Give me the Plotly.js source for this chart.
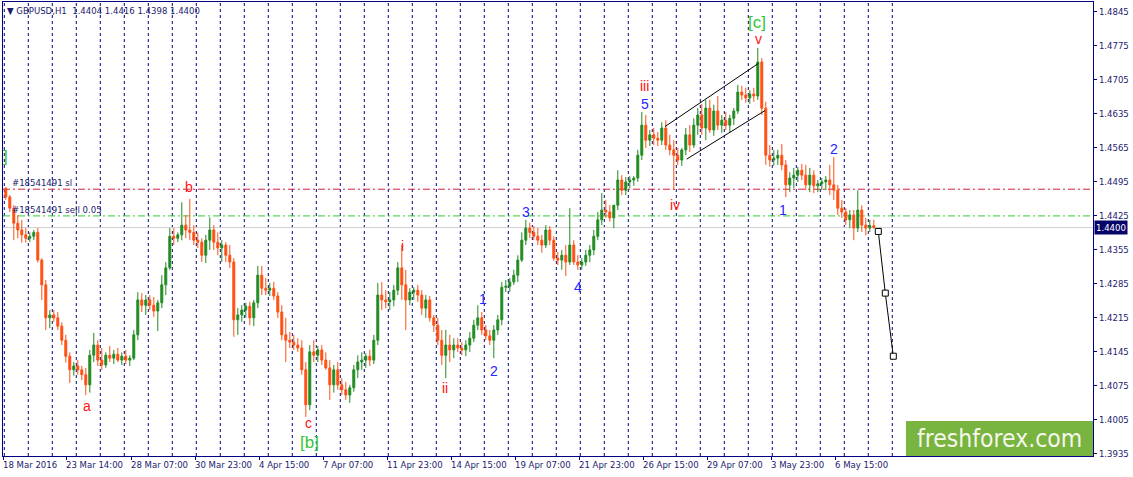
<!DOCTYPE html>
<html>
<head>
<meta charset="utf-8">
<script src="https://cdn.plot.ly/plotly-3.0.1.min.js"></script>
<style>
html, body { margin: 0; padding: 0; background: #fff; }
#chart { width: 1133px; height: 477px; }
</style>
</head>
<body>
<div id="chart"></div>
<script>
// GBPUSD H1, shown as 4-hour candles, bar 0 = 21 Mar 2016 00:00
var opens = [
 1.4481,1.4463,1.4440,1.4409,1.4395,1.4385, 1.4378,1.4382,1.4390,1.4333,1.4282,1.4214,
 1.4220,1.4214,1.4197,1.4168,1.4135,1.4107, 1.4115,1.4107,1.4097,1.4076,1.4137,1.4158,
 1.4127,1.4117,1.4137,1.4131,1.4139,1.4127, 1.4135,1.4127,1.4131,1.4179,1.4251,1.4240,
 1.4251,1.4240,1.4228,1.4245,1.4282,1.4317, 1.4382,1.4378,1.4385,1.4405,1.4395,1.4390,
 1.4374,1.4370,1.4343,1.4374,1.4395,1.4370, 1.4358,1.4364,1.4343,1.4329,1.4210,1.4220,
 1.4230,1.4238,1.4214,1.4245,1.4302,1.4275, 1.4271,1.4275,1.4259,1.4226,1.4179,1.4168,
 1.4164,1.4158,1.4152,1.4107,1.4035,1.4144, 1.4137,1.4148,1.4127,1.4111,1.4076,1.4107,
 1.4076,1.4066,1.4055,1.4070,1.4107,1.4123, 1.4127,1.4135,1.4127,1.4168,1.4261,1.4251,
 1.4247,1.4251,1.4271,1.4317,1.4282,1.4251, 1.4267,1.4271,1.4261,1.4234,1.4251,1.4214,
 1.4199,1.4168,1.4137,1.4158,1.4148,1.4158, 1.4152,1.4148,1.4158,1.4172,1.4199,1.4214,
 1.4189,1.4177,1.4168,1.4189,1.4210,1.4277, 1.4279,1.4288,1.4302,1.4333,1.4374,1.4399,
 1.4390,1.4382,1.4374,1.4364,1.4395,1.4374, 1.4337,1.4333,1.4343,1.4329,1.4364,1.4329,
 1.4323,1.4329,1.4343,1.4354,1.4382,1.4416, 1.4436,1.4432,1.4420,1.4446,1.4498,1.4477,
 1.4494,1.4498,1.4502,1.4549,1.4611,1.4580, 1.4591,1.4584,1.4580,1.4605,1.4570,1.4560,
 1.4549,1.4539,1.4560,1.4591,1.4570,1.4611, 1.4632,1.4605,1.4646,1.4601,1.4640,1.4611,
 1.4621,1.4611,1.4625,1.4640,1.4679,1.4673, 1.4667,1.4675,1.4671,1.4741,1.4646,1.4549,
 1.4539,1.4543,1.4549,1.4529,1.4488,1.4502, 1.4508,1.4518,1.4508,1.4488,1.4508,1.4486,
 1.4490,1.4494,1.4498,1.4488,1.4477,1.4440, 1.4432,1.4416,1.4426,1.4399,1.4436,1.4405,
 1.4399,1.4404
];
var highs = [
 1.4483,1.4467,1.4446,1.4426,1.4416,1.4399, 1.4390,1.4395,1.4399,1.4337,1.4292,1.4230,
 1.4230,1.4226,1.4205,1.4179,1.4143,1.4123, 1.4127,1.4115,1.4111,1.4148,1.4183,1.4168,
 1.4152,1.4143,1.4156,1.4148,1.4152,1.4143, 1.4148,1.4137,1.4189,1.4267,1.4265,1.4261,
 1.4261,1.4257,1.4251,1.4302,1.4329,1.4399, 1.4399,1.4390,1.4452,1.4426,1.4459,1.4405,
 1.4390,1.4378,1.4385,1.4421,1.4405,1.4390, 1.4374,1.4370,1.4364,1.4337,1.4234,1.4240,
 1.4245,1.4247,1.4251,1.4321,1.4321,1.4296, 1.4286,1.4288,1.4267,1.4240,1.4214,1.4185,
 1.4179,1.4172,1.4168,1.4123,1.4158,1.4168, 1.4156,1.4158,1.4143,1.4127,1.4117,1.4123,
 1.4090,1.4082,1.4076,1.4117,1.4137,1.4143, 1.4141,1.4148,1.4179,1.4286,1.4288,1.4271,
 1.4267,1.4282,1.4329,1.4364,1.4313,1.4275, 1.4277,1.4282,1.4271,1.4261,1.4259,1.4220,
 1.4214,1.4189,1.4189,1.4179,1.4172,1.4172, 1.4164,1.4168,1.4185,1.4210,1.4240,1.4226,
 1.4199,1.4189,1.4199,1.4220,1.4288,1.4292, 1.4296,1.4313,1.4343,1.4390,1.4416,1.4410,
 1.4403,1.4399,1.4385,1.4405,1.4403,1.4382, 1.4350,1.4354,1.4364,1.4440,1.4374,1.4343,
 1.4337,1.4354,1.4364,1.4395,1.4432,1.4471, 1.4457,1.4446,1.4436,1.4518,1.4508,1.4504,
 1.4506,1.4506,1.4560,1.4638,1.4632,1.4601, 1.4605,1.4597,1.4617,1.4621,1.4591,1.4580,
 1.4564,1.4564,1.4605,1.4611,1.4625,1.4646, 1.4655,1.4663,1.4663,1.4653,1.4671,1.4632,
 1.4638,1.4632,1.4646,1.4694,1.4692,1.4688, 1.4683,1.4688,1.4770,1.4749,1.4659,1.4570,
 1.4560,1.4560,1.4572,1.4539,1.4514,1.4523, 1.4525,1.4531,1.4529,1.4523,1.4518,1.4498,
 1.4502,1.4506,1.4529,1.4545,1.4488,1.4457, 1.4440,1.4436,1.4436,1.4477,1.4446,1.4420,
 1.4416,1.4416
];
var lows = [
 1.4457,1.4432,1.4374,1.4378,1.4369,1.4369, 1.4370,1.4374,1.4328,1.4251,1.4189,1.4193,
 1.4206,1.4189,1.4158,1.4122,1.4080,1.4095, 1.4097,1.4086,1.4055,1.4060,1.4123,1.4115,
 1.4107,1.4111,1.4123,1.4119,1.4123,1.4117, 1.4119,1.4115,1.4127,1.4168,1.4226,1.4220,
 1.4230,1.4216,1.4187,1.4234,1.4261,1.4313, 1.4364,1.4370,1.4374,1.4378,1.4374,1.4364,
 1.4358,1.4329,1.4327,1.4354,1.4354,1.4343, 1.4329,1.4329,1.4317,1.4175,1.4179,1.4206,
 1.4214,1.4199,1.4197,1.4234,1.4261,1.4261, 1.4259,1.4251,1.4214,1.4168,1.4123,1.4152,
 1.4148,1.4144,1.4097,1.4010,1.4024,1.4123, 1.4123,1.4117,1.4107,1.4045,1.4060,1.4066,
 1.4055,1.4045,1.4039,1.4062,1.4090,1.4107, 1.4111,1.4115,1.4119,1.4158,1.4230,1.4234,
 1.4230,1.4238,1.4261,1.4251,1.4189,1.4240, 1.4251,1.4247,1.4220,1.4214,1.4206,1.4185,
 1.4158,1.4117,1.4090,1.4123,1.4131,1.4144, 1.4137,1.4135,1.4144,1.4164,1.4189,1.4179,
 1.4168,1.4158,1.4131,1.4179,1.4199,1.4267, 1.4267,1.4282,1.4288,1.4329,1.4364,1.4378,
 1.4374,1.4364,1.4348,1.4358,1.4364,1.4331, 1.4323,1.4313,1.4300,1.4323,1.4323,1.4313,
 1.4313,1.4321,1.4329,1.4343,1.4374,1.4405, 1.4420,1.4412,1.4399,1.4436,1.4467,1.4467,
 1.4481,1.4486,1.4494,1.4539,1.4564,1.4568, 1.4570,1.4568,1.4570,1.4560,1.4549,1.4477,
 1.4529,1.4527,1.4549,1.4556,1.4564,1.4591, 1.4591,1.4580,1.4595,1.4589,1.4601,1.4595,
 1.4601,1.4595,1.4611,1.4634,1.4663,1.4657, 1.4655,1.4659,1.4663,1.4632,1.4529,1.4525,
 1.4527,1.4529,1.4518,1.4463,1.4473,1.4481, 1.4494,1.4498,1.4477,1.4473,1.4471,1.4473,
 1.4477,1.4477,1.4467,1.4457,1.4426,1.4420, 1.4405,1.4399,1.4374,1.4391,1.4391,1.4384,
 1.4391,1.4398
];
var closes = [
 1.4463,1.4440,1.4409,1.4395,1.4385,1.4378, 1.4382,1.4390,1.4333,1.4282,1.4214,1.4220,
 1.4214,1.4197,1.4168,1.4135,1.4107,1.4115, 1.4107,1.4097,1.4076,1.4137,1.4158,1.4127,
 1.4117,1.4137,1.4131,1.4139,1.4127,1.4135, 1.4127,1.4131,1.4179,1.4251,1.4240,1.4251,
 1.4240,1.4228,1.4245,1.4282,1.4317,1.4382, 1.4378,1.4385,1.4405,1.4395,1.4390,1.4374,
 1.4370,1.4343,1.4374,1.4395,1.4370,1.4358, 1.4364,1.4343,1.4329,1.4210,1.4220,1.4230,
 1.4238,1.4214,1.4245,1.4302,1.4275,1.4271, 1.4275,1.4259,1.4226,1.4179,1.4168,1.4164,
 1.4158,1.4152,1.4107,1.4035,1.4144,1.4137, 1.4148,1.4127,1.4111,1.4076,1.4107,1.4076,
 1.4066,1.4055,1.4070,1.4107,1.4123,1.4127, 1.4135,1.4127,1.4168,1.4261,1.4251,1.4247,
 1.4251,1.4271,1.4317,1.4282,1.4251,1.4267, 1.4271,1.4261,1.4234,1.4251,1.4214,1.4199,
 1.4168,1.4137,1.4158,1.4148,1.4158,1.4152, 1.4148,1.4158,1.4172,1.4199,1.4214,1.4189,
 1.4177,1.4168,1.4189,1.4210,1.4277,1.4279, 1.4288,1.4302,1.4333,1.4374,1.4399,1.4390,
 1.4382,1.4374,1.4364,1.4395,1.4374,1.4337, 1.4333,1.4343,1.4329,1.4364,1.4329,1.4323,
 1.4329,1.4343,1.4354,1.4382,1.4416,1.4436, 1.4432,1.4420,1.4446,1.4498,1.4477,1.4494,
 1.4498,1.4502,1.4549,1.4611,1.4580,1.4591, 1.4584,1.4580,1.4605,1.4570,1.4560,1.4549,
 1.4539,1.4560,1.4591,1.4570,1.4611,1.4632, 1.4605,1.4646,1.4601,1.4640,1.4611,1.4621,
 1.4611,1.4625,1.4640,1.4679,1.4673,1.4667, 1.4675,1.4671,1.4741,1.4646,1.4549,1.4539,
 1.4543,1.4549,1.4529,1.4488,1.4502,1.4508, 1.4518,1.4508,1.4488,1.4508,1.4486,1.4490,
 1.4494,1.4498,1.4488,1.4477,1.4440,1.4432, 1.4416,1.4426,1.4399,1.4436,1.4405,1.4399,
 1.4404,1.4400
];

// time axis labels (bar number from 21 Mar 00:00)
var labelBars = [-1, 62, 127, 191, 255, 319, 383, 447, 511, 575, 639, 703, 767, 831];
var labelText = ['18 Mar 2016', '23 Mar 14:00', '28 Mar 07:00', '30 Mar 23:00', '4 Apr 15:00',
  '7 Apr 07:00', '11 Apr 23:00', '14 Apr 15:00', '19 Apr 07:00', '21 Apr 23:00',
  '26 Apr 15:00', '29 Apr 07:00', '3 May 23:00', '6 May 15:00'];
var priceTicks = [1.3935, 1.4005, 1.4075, 1.4145, 1.4215, 1.4285, 1.4355, 1.4425,
  1.4495, 1.4565, 1.4635, 1.4705, 1.4775, 1.4845];
var dayCount = 38;

// order levels
var slLevel = 1.4479;
var sellLevel = 1.4424;
var bidLevel = 1.4400;

// wave marks
var waveText = ['a', 'b', 'c', 'i', 'ii', 'iii', 'iv', 'v'];
var waveBar = [82.7, 184.7, 303.7, 397.7, 440.7, 639.7, 670.7, 753.7];
var wavePrice = [1.4032, 1.4484, 1.3997, 1.4362, 1.4070, 1.4692, 1.4446, 1.4788];
var numText = ['1', '2', '3', '4', '5', '1', '2'];
var numBar = [478.7, 489.7, 521.7, 573.7, 640.7, 778.7, 829.7];
var numPrice = [1.4253, 1.4105, 1.4432, 1.4278, 1.4655, 1.4436, 1.4562];
var bigText = [']', '[b]', '[c]'];
var bigBar = [0.8, 304.7, 752.7];
var bigPrice = [1.4547, 1.3958, 1.4823];

// channel and forecast
var chanUpBar = [660.7, 754], chanUpPrice = [1.4608, 1.4738];
var chanLoBar = [682.4, 760.7], chanLoPrice = [1.4541, 1.4641];
var fcBar = [874, 881, 889];
var fcPrice = [1.4392, 1.4265, 1.4135];

var navy = '#000080';
var smallFont = { family: 'DejaVu Sans Condensed, DejaVu Sans, sans-serif', size: 9.5, color: '#1b1b6e' };

var barX = closes.map(function(c, j) { return 4 * j + 1.5; });

var candles = {
  type: 'candlestick',
  x: barX, open: opens, high: highs, low: lows, close: closes,
  increasing: { line: { color: '#228b22', width: 1 }, fillcolor: '#228b22' },
  decreasing: { line: { color: '#ff4f12', width: 1 }, fillcolor: '#ff4f12' },
  whiskerwidth: 0, hoverinfo: 'none', showlegend: false
};
var chanUp = { type: 'scatter', mode: 'lines', x: chanUpBar, y: chanUpPrice,
  line: { color: '#000', width: 1 }, hoverinfo: 'none', showlegend: false };
var chanLo = { type: 'scatter', mode: 'lines', x: chanLoBar, y: chanLoPrice,
  line: { color: '#000', width: 1 }, hoverinfo: 'none', showlegend: false };
var forecast = { type: 'scatter', mode: 'lines+markers', x: fcBar, y: fcPrice,
  line: { color: '#000', width: 1 },
  marker: { symbol: 'square', size: 6, color: '#fff', line: { color: '#000', width: 1 } },
  hoverinfo: 'none', showlegend: false };

var shapes = [];
for (var k = 0; k < dayCount; k++) {
  shapes.push({ type: 'line', xref: 'x', yref: 'paper', x0: 24 * k, x1: 24 * k, y0: 0, y1: 1,
    line: { color: navy, width: 1, dash: '3px,3px' }, layer: 'below' });
}
shapes.push({ type: 'line', xref: 'paper', yref: 'y', x0: 0, x1: 1, y0: bidLevel, y1: bidLevel,
  line: { color: '#cfcfcf', width: 1 }, layer: 'below' });
shapes.push({ type: 'line', xref: 'paper', yref: 'y', x0: 0, x1: 1, y0: slLevel, y1: slLevel,
  line: { color: '#d81e3c', width: 1, dash: '7px,3px,2px,3px' }, layer: 'below' });
shapes.push({ type: 'line', xref: 'paper', yref: 'y', x0: 0, x1: 1, y0: sellLevel, y1: sellLevel,
  line: { color: '#32cd32', width: 1, dash: '7px,3px,2px,3px' }, layer: 'below' });
// logo box
shapes.push({ type: 'rect', xref: 'paper', yref: 'paper', x0: 0.8284, x1: 1, y0: 0, y1: 0.0771,
  fillcolor: '#79b340', line: { width: 0 }, layer: 'above' });

var annotations = [];
labelBars.forEach(function(b, i) {
  annotations.push({ x: b, y: 0, xref: 'x', yref: 'paper', xanchor: 'left', yanchor: 'top',
    xshift: -2, yshift: -1, text: labelText[i], showarrow: false, font: smallFont });
});
waveText.forEach(function(t, i) {
  annotations.push({ x: waveBar[i], y: wavePrice[i], text: t, showarrow: false,
    xanchor: 'center', yanchor: 'middle',
    font: { family: 'Liberation Sans, Arial, sans-serif', size: 14, color: '#ff1010' } });
});
numText.forEach(function(t, i) {
  annotations.push({ x: numBar[i], y: numPrice[i], text: t, showarrow: false,
    xanchor: 'center', yanchor: 'middle',
    font: { family: 'Liberation Sans, Arial, sans-serif', size: 14, color: '#2626ff' } });
});
bigText.forEach(function(t, i) {
  annotations.push({ x: bigBar[i], y: bigPrice[i], text: t, showarrow: false,
    xanchor: 'center', yanchor: 'middle',
    font: { family: 'Liberation Sans, Arial, sans-serif', size: 17, color: '#36c436' } });
});
annotations.push({ x: 5.7, y: slLevel, xanchor: 'left', yanchor: 'bottom', yshift: -1,
  text: '#18541491 sl', showarrow: false, font: smallFont });
annotations.push({ x: 5.7, y: sellLevel, xanchor: 'left', yanchor: 'bottom', yshift: -1,
  text: '#18541491 sell 0.05', showarrow: false, font: smallFont });
annotations.push({ x: 1, xref: 'paper', y: bidLevel, xanchor: 'left', yanchor: 'middle', xshift: 1,
  text: bidLevel.toFixed(4), showarrow: false, bgcolor: '#06066a', borderpad: 1,
  font: { family: smallFont.family, size: 9.5, color: '#fff' } });
annotations.push({ x: 0.9142, y: 0.0385, xref: 'paper', yref: 'paper',
  xanchor: 'center', yanchor: 'middle',
  text: 'freshforex.com', showarrow: false,
  font: { family: 'DejaVu Sans Condensed, DejaVu Sans, sans-serif', size: 24.5, color: '#f4f7ea' } });

var layout = {
  width: 1133, height: 477,
  margin: { l: 3, r: 40, t: 2, b: 21 },
  paper_bgcolor: '#fff', plot_bgcolor: '#fff',
  boxgap: 0.3,
  title: { text: '\u25BC GBPUSD,H1\u00a0 1.4404 1.4416 1.4398 1.4400', font: smallFont,
    x: 7 / 1133, xanchor: 'left', xref: 'container', y: 1 - 10.5 / 477, yanchor: 'middle', yref: 'container' },
  xaxis: {
    type: 'linear', range: [-1.3, 1088.7], rangeslider: { visible: false },
    showgrid: false, zeroline: false, showline: true, mirror: true, linecolor: navy, linewidth: 1,
    tickvals: labelBars, showticklabels: false, ticks: 'outside', ticklen: 3, tickcolor: navy
  },
  yaxis: {
    range: [1.39295, 1.48646], side: 'right',
    showgrid: false, zeroline: false, showline: true, mirror: true, linecolor: navy, linewidth: 1,
    tickvals: priceTicks, ticktext: priceTicks.map(function(v) { return v.toFixed(4); }),
    ticks: 'outside', ticklen: 3, tickcolor: navy, tickfont: smallFont
  },
  shapes: shapes,
  annotations: annotations
};

Plotly.newPlot('chart', [candles, chanUp, chanLo, forecast], layout, { displayModeBar: false, staticPlot: true });
</script>
</body>
</html>
